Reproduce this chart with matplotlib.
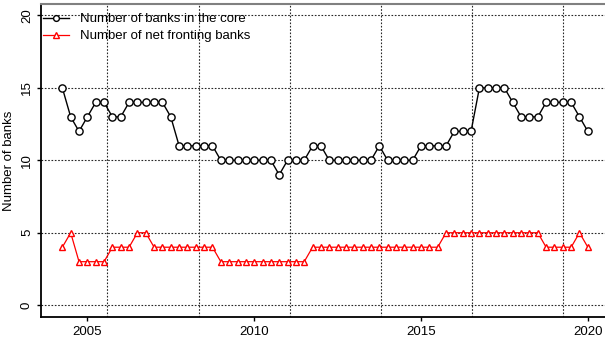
import matplotlib.pyplot as plt
import numpy as np

# quarterly, 2004Q2 .. 2020Q1
start_year = 2004.25
core_banks = [15, 13, 12, 13, 14, 14, 13, 13, 14, 14, 14, 14, 14, 13, 11, 11,
              11, 11, 11, 10, 10, 10, 10, 10, 10, 10, 9, 10, 10, 10, 11, 11,
              10, 10, 10, 10, 10, 10, 11, 10, 10, 10, 10, 11, 11, 11, 11, 12,
              12, 12, 15, 15, 15, 15, 14, 13, 13, 13, 14, 14, 14, 14, 13, 12]
net_fronting = [4, 5, 3, 3, 3, 3, 4, 4, 4, 5, 5, 4, 4, 4, 4, 4,
                4, 4, 4, 3, 3, 3, 3, 3, 3, 3, 3, 3, 3, 3, 4, 4,
                4, 4, 4, 4, 4, 4, 4, 4, 4, 4, 4, 4, 4, 4, 5, 5,
                5, 5, 5, 5, 5, 5, 5, 5, 5, 5, 4, 4, 4, 4, 5, 4]
x_ticks = [2005, 2010, 2015, 2020]
y_ticks = [0, 5, 10, 15, 20]

plt.rcParams['font.family'] = ['Liberation Sans', 'DejaVu Sans']

t = start_year + 0.25 * np.arange(len(core_banks))

fig = plt.figure(figsize=(6.05, 3.37), dpi=100)
ax = fig.add_axes([0.0683, 0.058, 0.932, 0.930])

grid_style = dict(color='0.15', lw=0.8, linestyle=(0, (1.5, 1.5)), zorder=0)
for y in y_ticks:
    ax.axhline(y, **grid_style)
for k in range(6):
    ax.axvline(2005.60 + k * 2.734, **grid_style)

ax.plot(t, core_banks, color='black', lw=1.0, marker='o', ms=5.2,
        mfc='white', mec='black', mew=1.0, label='Number of banks in the core')
ax.plot(t, net_fronting, color='red', lw=0.9, marker='^', ms=4.6,
        mfc='white', mec='red', mew=1.0, label='Number of net fronting banks')

ax.set_xlim(2003.62, 2020.52)
ax.set_ylim(-0.85, 20.79)
ax.set_xticks(x_ticks)
ax.set_yticks(y_ticks)
ax.set_yticklabels([str(v) for v in y_ticks], rotation=90, va='center')
ax.tick_params(labelsize=9.5, length=3, width=1, pad=3)
ax.set_ylabel('Number of banks', fontsize=9.5, labelpad=4)

for s in ['left', 'bottom']:
    ax.spines[s].set_linewidth(1.3)
ax.spines['top'].set_color('0.5')
ax.spines['top'].set_linewidth(1.5)
ax.spines['right'].set_visible(False)

ax.legend(loc='upper left', bbox_to_anchor=(0.0, 0.975), frameon=False,
          fontsize=9.5, handlelength=2.0, handletextpad=0.8,
          labelspacing=0.35, borderpad=0.1, borderaxespad=0.0,
          markerscale=0.8)

fig.savefig('out.png', dpi=100)
